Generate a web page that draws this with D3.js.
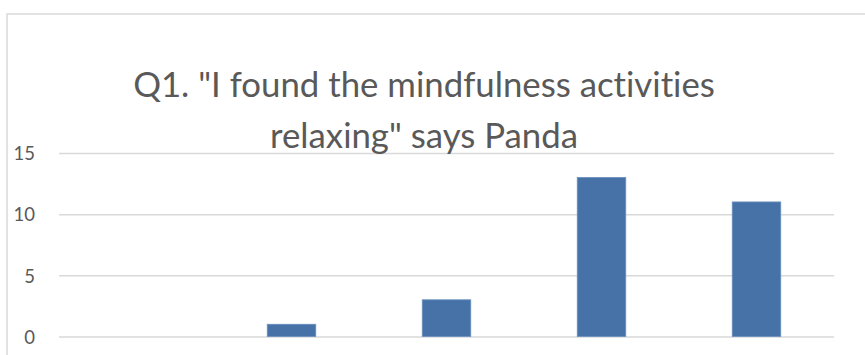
<!DOCTYPE html>
<html>
<head>
<meta charset="utf-8">
<script src="https://cdn.jsdelivr.net/npm/d3@7"></script>
<style>
  html, body { margin: 0; padding: 0; background: #fff; }
  svg { display: block; }
  text { font-variant-ligatures: none; font-feature-settings: "liga" 0, "clig" 0; }
</style>
</head>
<body>
<svg id="chart" width="865" height="355"></svg>
<script>
// Survey responses for Q1 (count of pupils per answer)
const categories = ["Strongly disagree", "Disagree", "Neutral", "Agree", "Strongly agree"];
const counts = [0, 1, 3, 13, 11];
const yTicks = [0, 5, 10, 15];
const titleLines = ['Q1. "I found the mindfulness activities', 'relaxing" says Panda'];

const svg = d3.select("#chart");
const W = 865, H = 355;
const font = "Lato, 'Open Sans', sans-serif";
const textColor = "#595959";
const gridColor = "#d9d9d9";
const barColor = "#4672a8";

// chart area frame (continues past the right and bottom edges)
svg.append("rect")
  .attr("x", 7).attr("y", 14)
  .attr("width", W + 20).attr("height", H + 20)
  .attr("fill", "#fff")
  .attr("stroke", gridColor).attr("stroke-width", 1.5);

const plot = { left: 59, right: 834, zeroY: 336.5, topY: 153 };

const x = d3.scaleBand()
  .domain(categories)
  .range([plot.left, plot.right])
  .paddingInner(0.687)
  .paddingOuter(0.687 / 2);

const y = d3.scaleLinear()
  .domain([0, 15])
  .range([plot.zeroY, plot.topY]);

// horizontal gridlines + value labels
const yAxis = d3.axisLeft(y)
  .tickValues(yTicks)
  .tickSize(-(plot.right - plot.left))
  .tickPadding(24)
  .tickFormat(d3.format("d"));

const gy = svg.append("g")
  .attr("transform", `translate(${plot.left},0)`)
  .call(yAxis);
gy.select(".domain").remove();
gy.selectAll(".tick line")
  .attr("stroke", gridColor)
  .attr("stroke-width", 1.5);
gy.selectAll(".tick text")
  .attr("fill", textColor)
  .attr("font-family", font)
  .attr("font-size", 18.5)
  .attr("dy", "0.36em");

// bars
svg.append("g")
  .selectAll("rect")
  .data(categories.map((c, i) => ({ c, v: counts[i] })))
  .join("rect")
  .attr("x", d => x(d.c))
  .attr("width", x.bandwidth())
  .attr("y", d => y(d.v))
  .attr("height", d => y(0) - y(d.v))
  .attr("fill", barColor)
  .attr("stroke", "#6a8fbd")
  .attr("stroke-width", 0.8);

// two-line title, centred over the plot
const title = svg.append("g")
  .attr("fill", textColor)
  .attr("font-family", font)
  .attr("text-anchor", "middle");
const titleCx = 424;
const baselines = [97, 148];
title.selectAll("text")
  .data(titleLines)
  .join("text")
  .attr("x", titleCx)
  .attr("y", (d, i) => baselines[i])
  .attr("font-size", 30)
  .text(d => d);

// fit the first line to its natural width in the target face
const first = title.select("text").node();
const w = first.getComputedTextLength();
const fitted = 30 * 582 / w;
title.selectAll("text").attr("font-size", fitted);
</script>
</body>
</html>
